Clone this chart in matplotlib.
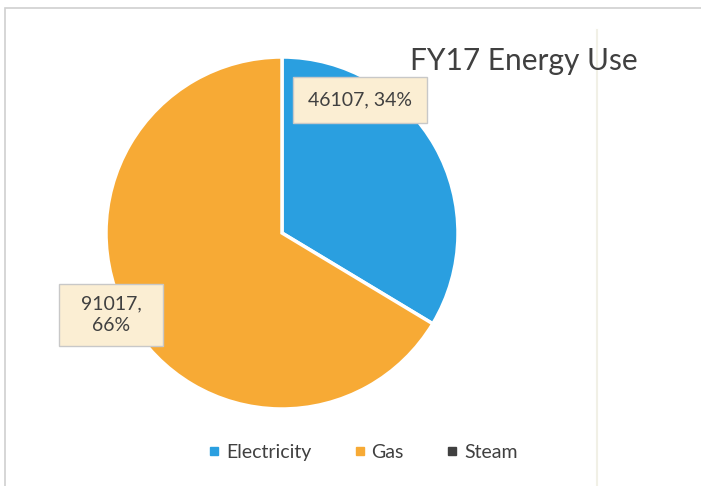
#!/usr/bin/env python3

#Pie chart of FY17 energy use by source

import matplotlib.pyplot as plt
from matplotlib.patches import Rectangle

#Data
sources = ["Electricity", "Gas", "Steam"]
usage = [46107, 91017, 0]
shares = [34, 66, 0]
colors = ["#2a9fe0", "#f7aa35", "#404040"]

plt.rcParams["font.family"] = ["Lato", "DejaVu Sans"]

fig = plt.figure(figsize=(7.01, 4.86), dpi=100)

#Chart frame (light border of the scanned chart area)
fig.patches.append(Rectangle((5 / 701, -0.1), 1.2, (486 - 8) / 486 + 0.1,
                             transform=fig.transFigure, fill=False,
                             edgecolor="#d0d0d0", linewidth=1.2))
fig.add_artist(plt.Line2D([597 / 701, 597 / 701], [0, 1 - 30 / 486],
                          transform=fig.transFigure, color="#f1f0e6", linewidth=1.5))

#Pie axes: centre (282, 233), radius ~176 px
r = 176
ax = fig.add_axes([(282 - r) / 701, (486 - 233 - r) / 486, 2 * r / 701, 2 * r / 486])
ax.pie(usage[:2], colors=colors[:2], startangle=90, counterclock=False,
       wedgeprops=dict(edgecolor="white", linewidth=2.5))
ax.set_xlim(-1, 1)
ax.set_ylim(-1, 1)
ax.set_aspect("auto")
ax.axis("off")

#Data labels
box = dict(boxstyle="square,pad=0.75", facecolor="#fbeed3", edgecolor="#c8c8c8", linewidth=1)
fig.text(360 / 701, 1 - 100 / 486, f"{usage[0]}, {shares[0]}%", ha="center", va="center",
         fontsize=14, color="#404040", bbox=box)
box2 = dict(boxstyle="square,pad=0.6", facecolor="#fbeed3", edgecolor="#c8c8c8", linewidth=1)
fig.text(111 / 701, 1 - 315 / 486, f"  {usage[1]},  \n{shares[1]}%", ha="center", va="center",
         fontsize=14, color="#404040", bbox=box2, linespacing=1.35)

#Title
fig.text(524 / 701, 1 - 61 / 486, "FY17 Energy Use", ha="center", va="center",
         fontsize=21.5, color="#404040")

#Legend
handles = [plt.Line2D([], [], marker="s", linestyle="", markersize=6, color=c) for c in colors]
fig.legend(handles, sources, loc="center", bbox_to_anchor=(363 / 701, 1 - 452 / 486),
           ncol=3, frameon=False, fontsize=14, labelcolor="#404040",
           handlelength=0.6, handletextpad=0.3, columnspacing=2.2)

fig.savefig("out.png", dpi=100, facecolor="white")
